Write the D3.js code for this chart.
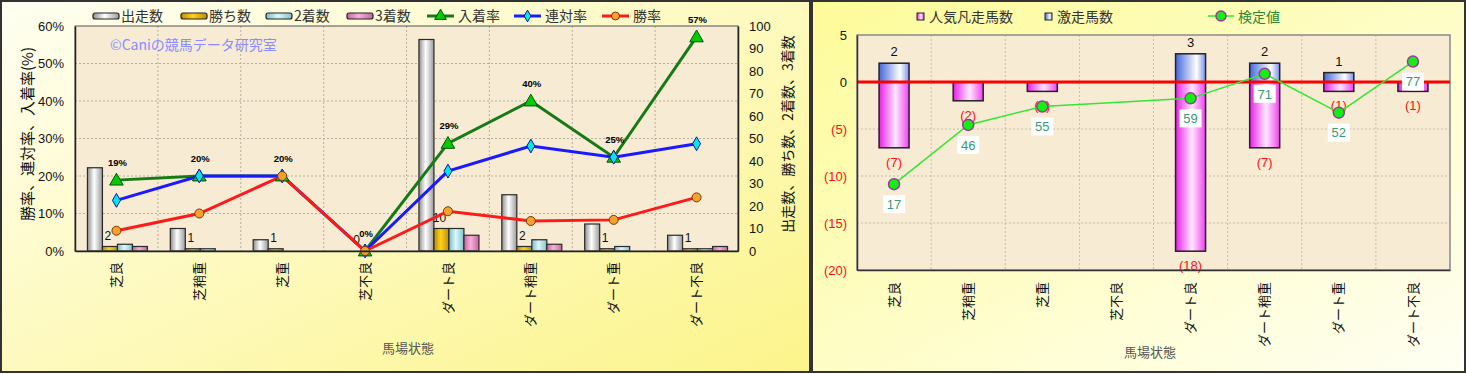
<!DOCTYPE html>
<html>
<head>
<meta charset="utf-8">
<script src="https://cdn.jsdelivr.net/npm/d3@7"></script>
<style>
  body { margin: 0; background: #fff; }
  text { font-family: "Liberation Sans", "Noto Sans CJK JP", sans-serif; }
  .jp { font-family: "Noto Sans CJK JP", sans-serif; }
</style>
</head>
<body>
<svg id="chart" width="1466" height="374"></svg>
<script>
// categories (馬場状態)
var categories = ['芝良', '芝稍重', '芝重', '芝不良', 'ダート良', 'ダート稍重', 'ダート重', 'ダート不良']

// left chart: counts
var runs = [37, 10, 5, 0, 94, 25, 12, 7]      // 出走数
var wins = [2, 1, 1, 0, 10, 2, 1, 1]          // 勝ち数
var seconds = [3, 1, 0, 0, 10, 5, 2, 1]       // 2着数
var thirds = [2, 0, 0, 0, 7, 3, 0, 2]         // 3着数
// left chart: rates (%)
var placeRate = [18.9, 20, 20, 0, 28.7, 40, 25, 57.1]   // 入着率
var rentaiRate = [13.5, 20, 20, 0, 21.3, 28, 25, 28.6]  // 連対率
var winRate = [5.4, 10, 20, 0, 10.6, 8, 8.3, 14.3]      // 勝率
var leftTicks = [0, 10, 20, 30, 40, 50, 60]
var rightTicks = [0, 10, 20, 30, 40, 50, 60, 70, 80, 90, 100]

// right chart
var hitHorses = [2, 0, 0, 0, 3, 2, 1, 0]           // 激走馬数
var flopHorses = [-7, -2, -1, 0, -18, -7, -1, -1]  // 人気凡走馬数
var testValues = [17, 46, 55, null, 59, 71, 52, 77] // 検定値
var diffTicks = [5, 0, -5, -10, -15, -20]

var svg = d3.select('#chart')
var defs = svg.append('defs')

function hGrad (id, stops) {
  var g = defs.append('linearGradient').attr('id', id)
    .attr('x1', '0%').attr('x2', '100%').attr('y1', '0%').attr('y2', '0%')
  stops.forEach(function (s) {
    g.append('stop').attr('offset', s[0]).attr('stop-color', s[1])
  })
}
hGrad('gRuns', [['0%', '#8e8e8e'], ['45%', '#ffffff'], ['100%', '#9a9a9a']])
hGrad('gWins', [['0%', '#b88a00'], ['45%', '#ffd21e'], ['100%', '#c09000']])
hGrad('gSec', [['0%', '#78bcc6'], ['45%', '#dcf8fc'], ['100%', '#80c4cc']])
hGrad('gThi', [['0%', '#c8649e'], ['45%', '#f7b0da'], ['100%', '#c8649e']])
hGrad('gHit', [['0%', '#4466dd'], ['70%', '#ffffff'], ['100%', '#7a90ee']])
hGrad('gFlop', [['0%', '#e81ee8'], ['55%', '#ffe8ff'], ['100%', '#f040f0']])

var bgL = defs.append('linearGradient').attr('id', 'bgL')
  .attr('x1', '0%').attr('y1', '0%').attr('x2', '100%').attr('y2', '100%')
bgL.append('stop').attr('offset', '0%').attr('stop-color', '#fffff2')
bgL.append('stop').attr('offset', '100%').attr('stop-color', '#fcf48a')
var bgR = defs.append('linearGradient').attr('id', 'bgR')
  .attr('x1', '0%').attr('y1', '0%').attr('x2', '100%').attr('y2', '100%')
bgR.append('stop').attr('offset', '0%').attr('stop-color', '#fdfb98')
bgR.append('stop').attr('offset', '100%').attr('stop-color', '#fffff4')

// panels
svg.append('rect').attr('x', 1).attr('y', 1).attr('width', 809).attr('height', 371)
  .attr('fill', 'url(#bgL)').attr('stroke', '#333').attr('stroke-width', 2)
svg.append('rect').attr('x', 812).attr('y', 1).attr('width', 653).attr('height', 371)
  .attr('fill', 'url(#bgR)').attr('stroke', '#333').attr('stroke-width', 2)

// ================= LEFT CHART =================
var L = svg.append('g')
var x = d3.scaleBand().domain(categories).range([75, 738])
var yL = d3.scaleLinear().domain([0, 60]).range([251, 26])
var yR = d3.scaleLinear().domain([0, 100]).range([251, 26])
var sub = d3.scaleBand().domain(['runs', 'wins', 'seconds', 'thirds'])
  .range([x.bandwidth() / 2 - 29, x.bandwidth() / 2 + 31])

L.append('rect').attr('x', 75).attr('y', 26).attr('width', 663).attr('height', 225)
  .attr('fill', '#f7ebd3')

// grid
L.selectAll('.hg').data(leftTicks.slice(1, -1)).enter().append('line')
  .attr('x1', 75).attr('x2', 738).attr('y1', yL).attr('y2', yL)
  .attr('stroke', '#b5b0a5').attr('stroke-dasharray', '2,2')
L.selectAll('.vg').data(categories.slice(1)).enter().append('line')
  .attr('x1', function (d) { return x(d) }).attr('x2', function (d) { return x(d) })
  .attr('y1', 26).attr('y2', 251)
  .attr('stroke', '#b5b0a5').attr('stroke-dasharray', '2,2')

L.append('text').attr('class', 'jp').attr('x', 110).attr('y', 50)
  .attr('font-size', 14).attr('fill', '#8a8cff').text('©Caniの競馬データ研究室')

// bars
var barSeries = [
  { key: 'runs', values: runs, fill: 'url(#gRuns)' },
  { key: 'wins', values: wins, fill: 'url(#gWins)' },
  { key: 'seconds', values: seconds, fill: 'url(#gSec)' },
  { key: 'thirds', values: thirds, fill: 'url(#gThi)' }
]
barSeries.forEach(function (s) {
  L.selectAll('.b-' + s.key).data(categories).enter().append('rect')
    .filter(function (d, i) { return s.values[i] > 0 })
    .attr('x', function (d) { return x(d) + sub(s.key) })
    .attr('y', function (d) { return yR(s.values[categories.indexOf(d)]) })
    .attr('width', sub.bandwidth())
    .attr('height', function (d) { return 251 - yR(s.values[categories.indexOf(d)]) })
    .attr('fill', s.fill).attr('stroke', '#2a2a2a').attr('stroke-width', 1.2)
})

// win count labels
L.selectAll('.wl').data(categories).enter().append('text')
  .attr('x', function (d) { return x(d) + sub('wins') + sub.bandwidth() / 2 - 2 })
  .attr('y', function (d, i) { return yR(wins[i]) - 7 })
  .attr('text-anchor', 'middle').attr('font-size', 12).attr('fill', '#111')
  .text(function (d, i) { return wins[i] })

// lines
var cx = function (d) { return x(d) + x.bandwidth() / 2 }
function drawRate (vals, color) {
  var line = d3.line().x(function (d, i) { return cx(categories[i]) }).y(function (d) { return yL(d) })
  L.append('path').datum(vals).attr('d', line).attr('fill', 'none')
    .attr('stroke', color).attr('stroke-width', 3)
}
drawRate(placeRate, '#167a16')
drawRate(rentaiRate, '#1a1aff')
drawRate(winRate, '#ff1a1a')

L.selectAll('.tri').data(placeRate).enter().append('path')
  .attr('d', d3.symbol().type(d3.symbolTriangle).size(80))
  .attr('transform', function (d, i) { return 'translate(' + cx(categories[i]) + ',' + (yL(d) + 1) + ')' })
  .attr('fill', '#00cc00').attr('stroke', '#0d4d0d').attr('stroke-width', 1)
L.selectAll('.dia').data(rentaiRate).enter().append('path')
  .attr('d', d3.symbol().type(d3.symbolDiamond).size(55))
  .attr('transform', function (d, i) { return 'translate(' + cx(categories[i]) + ',' + yL(d) + ')' })
  .attr('fill', '#00e8e8').attr('stroke', '#10109a').attr('stroke-width', 1)
L.selectAll('.cir').data(winRate).enter().append('circle')
  .attr('cx', function (d, i) { return cx(categories[i]) }).attr('cy', yL).attr('r', 4.5)
  .attr('fill', '#f5a030').attr('stroke', '#7a3a00').attr('stroke-width', 1)

L.selectAll('.pl').data(placeRate).enter().append('text')
  .attr('x', function (d, i) { return cx(categories[i]) + 1 })
  .attr('y', function (d) { return yL(d) - 14 })
  .attr('text-anchor', 'middle').attr('font-size', 9.5).attr('font-weight', 'bold')
  .text(function (d) { return Math.round(d) + '%' })

// frame & axes
L.append('rect').attr('x', 75).attr('y', 26).attr('width', 663).attr('height', 225)
  .attr('fill', 'none').attr('stroke', '#555').attr('stroke-width', 1)

var axL = L.append('g').attr('transform', 'translate(75,0)')
  .call(d3.axisLeft(yL).tickValues(leftTicks).tickSize(0).tickPadding(11)
    .tickFormat(function (d) { return d + '%' }))
axL.select('.domain').attr('stroke', '#222').attr('stroke-width', 1.5)
axL.selectAll('text').attr('font-size', 13).attr('fill', '#111')
  .attr('font-family', '"Liberation Sans", sans-serif')

var axR = L.append('g').attr('transform', 'translate(738,0)')
  .call(d3.axisRight(yR).tickValues(rightTicks).tickSize(0).tickPadding(11))
axR.select('.domain').attr('stroke', '#222').attr('stroke-width', 1.5)
axR.selectAll('text').attr('font-size', 13).attr('fill', '#111')
  .attr('font-family', '"Liberation Sans", sans-serif')

var axB = L.append('g').attr('transform', 'translate(0,251)')
  .call(d3.axisBottom(x).tickSize(0))
axB.select('.domain').attr('stroke', '#222').attr('stroke-width', 1.5)
axB.selectAll('text').attr('class', 'jp').attr('font-size', 13).attr('fill', '#111')
  .attr('transform', 'rotate(-90)').attr('x', -11).attr('y', 0).attr('dy', '0.35em')
  .style('text-anchor', 'end')

L.append('text').attr('class', 'jp').attr('transform', 'translate(33,134) rotate(-90)')
  .attr('text-anchor', 'middle').attr('font-size', 15).attr('fill', '#111')
  .text('勝率、連対率、入着率(%)')
L.append('text').attr('class', 'jp').attr('transform', 'translate(793,134) rotate(-90)')
  .attr('text-anchor', 'middle').attr('font-size', 14).attr('fill', '#111')
  .text('出走数、勝ち数、2着数、3着数')
L.append('text').attr('class', 'jp').attr('x', 408).attr('y', 353)
  .attr('text-anchor', 'middle').attr('font-size', 13).attr('fill', '#555').text('馬場状態')

// legend left
var legBars = [['出走数', 'url(#gRuns)', 93], ['勝ち数', 'url(#gWins)', 181], ['2着数', 'url(#gSec)', 266], ['3着数', 'url(#gThi)', 347]]
legBars.forEach(function (l) {
  L.append('rect').attr('x', l[2]).attr('y', 13).attr('width', 26).attr('height', 6).attr('rx', 2)
    .attr('fill', l[1]).attr('stroke', '#222').attr('stroke-width', 1.2)
  L.append('text').attr('class', 'jp').attr('x', l[2] + 28).attr('y', 21)
    .attr('font-size', 14).attr('fill', '#333').text(l[0])
})
var legLines = [['入着率', '#167a16', 427, 'tri'], ['連対率', '#1a1aff', 514, 'dia'], ['勝率', '#ff1a1a', 602, 'cir']]
legLines.forEach(function (l) {
  L.append('line').attr('x1', l[2]).attr('x2', l[2] + 27).attr('y1', 16).attr('y2', 16)
    .attr('stroke', l[1]).attr('stroke-width', 3)
  var mx = l[2] + 13.5
  if (l[3] === 'tri') {
    L.append('path').attr('d', d3.symbol().type(d3.symbolTriangle).size(60))
      .attr('transform', 'translate(' + mx + ',16)').attr('fill', '#00cc00').attr('stroke', '#0d4d0d')
  } else if (l[3] === 'dia') {
    L.append('path').attr('d', d3.symbol().type(d3.symbolDiamond).size(40))
      .attr('transform', 'translate(' + mx + ',16)').attr('fill', '#00e8e8').attr('stroke', '#10109a')
  } else {
    L.append('circle').attr('cx', mx).attr('cy', 16).attr('r', 4)
      .attr('fill', '#f5a030').attr('stroke', '#7a3a00')
  }
  L.append('text').attr('class', 'jp').attr('x', l[2] + 31).attr('y', 21)
    .attr('font-size', 14).attr('fill', '#333').text(l[0])
})

// ================= RIGHT CHART =================
var R = svg.append('g')
var xr = d3.scaleBand().domain(categories).range([857, 1450])
var yr = d3.scaleLinear().domain([-20, 5]).range([270, 35])
var yt = d3.scaleLinear().domain([-25, 90]).range([270, 35])
var rcx = function (d) { return xr(d) + xr.bandwidth() / 2 }
var bw = 30

R.append('rect').attr('x', 857).attr('y', 35).attr('width', 593).attr('height', 235)
  .attr('fill', '#f7ebd3')
R.selectAll('.hg').data([-15, -10, -5]).enter().append('line')
  .attr('x1', 857).attr('x2', 1450).attr('y1', yr).attr('y2', yr)
  .attr('stroke', '#c4beb2').attr('stroke-dasharray', '2,2')
R.selectAll('.vg').data(categories.slice(1)).enter().append('line')
  .attr('x1', function (d) { return xr(d) }).attr('x2', function (d) { return xr(d) })
  .attr('y1', 35).attr('y2', 270)
  .attr('stroke', '#c4beb2').attr('stroke-dasharray', '2,2')
R.append('rect').attr('x', 857).attr('y', 35).attr('width', 593).attr('height', 235)
  .attr('fill', 'none').attr('stroke', '#8a8a8a').attr('stroke-width', 1.5)

R.selectAll('.flop').data(categories).enter().append('rect')
  .filter(function (d, i) { return flopHorses[i] < 0 })
  .attr('x', function (d) { return rcx(d) - bw / 2 }).attr('y', yr(0))
  .attr('width', bw)
  .attr('height', function (d) { return yr(flopHorses[categories.indexOf(d)]) - yr(0) })
  .attr('fill', 'url(#gFlop)').attr('stroke', '#222').attr('stroke-width', 1.5)
R.selectAll('.hit').data(categories).enter().append('rect')
  .filter(function (d, i) { return hitHorses[i] > 0 })
  .attr('x', function (d) { return rcx(d) - bw / 2 })
  .attr('y', function (d) { return yr(hitHorses[categories.indexOf(d)]) })
  .attr('width', bw)
  .attr('height', function (d) { return yr(0) - yr(hitHorses[categories.indexOf(d)]) })
  .attr('fill', 'url(#gHit)').attr('stroke', '#222').attr('stroke-width', 1.5)

R.append('line').attr('x1', 857).attr('x2', 1450).attr('y1', yr(0)).attr('y2', yr(0))
  .attr('stroke', '#ff0000').attr('stroke-width', 3)

R.selectAll('.hl').data(categories).enter().append('text')
  .filter(function (d, i) { return hitHorses[i] > 0 })
  .attr('x', rcx).attr('y', function (d) { return yr(hitHorses[categories.indexOf(d)]) - 7 })
  .attr('text-anchor', 'middle').attr('font-size', 13).attr('fill', '#111')
  .text(function (d) { return hitHorses[categories.indexOf(d)] })
R.selectAll('.fl').data(categories).enter().append('text')
  .filter(function (d, i) { return flopHorses[i] < 0 })
  .attr('x', rcx).attr('y', function (d) { return yr(flopHorses[categories.indexOf(d)]) + 19 })
  .attr('text-anchor', 'middle').attr('font-size', 13).attr('fill', '#ff1010')
  .text(function (d) { return '(' + (-flopHorses[categories.indexOf(d)]) + ')' })

// test value line (gap at 芝不良 is bridged)
var pts = categories.map(function (c, i) { return { c: c, v: testValues[i] } })
  .filter(function (p) { return p.v !== null })
R.append('path').datum(pts)
  .attr('d', d3.line().x(function (p) { return rcx(p.c) }).y(function (p) { return yt(p.v) }))
  .attr('fill', 'none').attr('stroke', '#33e633').attr('stroke-width', 1.5)
R.selectAll('.tv').data(pts).enter().append('circle')
  .attr('cx', function (p) { return rcx(p.c) }).attr('cy', function (p) { return yt(p.v) }).attr('r', 5.5)
  .attr('fill', '#14ee14').attr('stroke', '#9a3a9a').attr('stroke-width', 1.5)
var tvl = R.selectAll('.tvl').data(pts).enter().append('g')
  .attr('transform', function (p) { return 'translate(' + rcx(p.c) + ',' + (yt(p.v) + 20) + ')' })
tvl.append('rect').attr('x', -11).attr('y', -9).attr('width', 22).attr('height', 18).attr('fill', '#fff')
tvl.append('text').attr('text-anchor', 'middle').attr('dy', '0.36em')
  .attr('font-size', 13).attr('fill', '#3a9a70').text(function (p) { return p.v })

var ayr = R.append('g').attr('transform', 'translate(857,0)')
  .call(d3.axisLeft(yr).tickValues(diffTicks).tickSize(0).tickPadding(10)
    .tickFormat(function (d) { return d < 0 ? '(' + (-d) + ')' : d }))
ayr.select('.domain').attr('stroke', '#333').attr('stroke-width', 1.5)
ayr.selectAll('text').attr('font-size', 13)
  .attr('font-family', '"Liberation Sans", sans-serif')
  .attr('fill', function (d) { return d < 0 ? '#ff1010' : '#111' })

var axr = R.append('g').attr('transform', 'translate(0,270)')
  .call(d3.axisBottom(xr).tickSize(0))
axr.select('.domain').attr('stroke', '#333').attr('stroke-width', 1.5)
axr.selectAll('text').attr('class', 'jp').attr('font-size', 13).attr('fill', '#111')
  .attr('transform', 'rotate(-90)').attr('x', -12).attr('y', 0).attr('dy', '0.35em')
  .style('text-anchor', 'end')

R.append('text').attr('class', 'jp').attr('x', 1150).attr('y', 357)
  .attr('text-anchor', 'middle').attr('font-size', 13).attr('fill', '#555').text('馬場状態')

// legend right
R.append('rect').attr('x', 917).attr('y', 13).attr('width', 7).attr('height', 7)
  .attr('fill', 'url(#gFlop)').attr('stroke', '#222')
R.append('text').attr('class', 'jp').attr('x', 929).attr('y', 22).attr('font-size', 14)
  .attr('fill', '#333').text('人気凡走馬数')
R.append('rect').attr('x', 1045).attr('y', 13).attr('width', 7).attr('height', 7)
  .attr('fill', 'url(#gHit)').attr('stroke', '#222')
R.append('text').attr('class', 'jp').attr('x', 1057).attr('y', 22).attr('font-size', 14)
  .attr('fill', '#333').text('激走馬数')
R.append('line').attr('x1', 1208).attr('x2', 1234).attr('y1', 16).attr('y2', 16)
  .attr('stroke', '#33e633').attr('stroke-width', 1.5)
R.append('circle').attr('cx', 1221).attr('cy', 16).attr('r', 5)
  .attr('fill', '#14ee14').attr('stroke', '#9a3a9a').attr('stroke-width', 1.5)
R.append('text').attr('class', 'jp').attr('x', 1238).attr('y', 22).attr('font-size', 14)
  .attr('fill', '#2e8a2e').text('検定値')
</script>
</body>
</html>
